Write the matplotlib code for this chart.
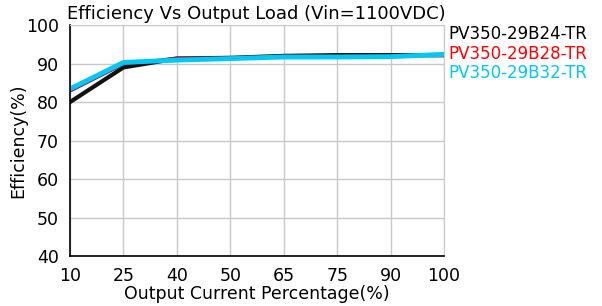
import matplotlib
matplotlib.use("Agg")
import matplotlib.pyplot as plt

x_labels = ["10", "25", "40", "50", "65", "75", "90", "100"]
eff_b24 = [80.0, 89.0, 91.3, 91.5, 92.0, 92.2, 92.2, 92.2]
eff_b28 = [82.8, 89.8, 91.5, 91.5, 92.0, 92.0, 92.0, 92.0]
eff_b32 = [83.4, 90.3, 90.9, 91.3, 91.7, 91.7, 91.8, 92.4]
names = ["PV350-29B24-TR", "PV350-29B28-TR", "PV350-29B32-TR"]
colors = ["#111111", "#8b1a4a", "#00c8f5"]
label_colors = ["#000000", "#ff0000", "#00c8f5"]

plt.rcParams['font.family'] = ['DejaVu Sans']
fig = plt.figure(figsize=(6.02, 3.06), dpi=100)
ax = fig.add_axes([0.1163, 0.1634, 0.6212, 0.7546])
xs = list(range(len(x_labels)))
for ys, c, lw in zip([eff_b24, eff_b28, eff_b32], colors, [3, 2, 3.5]):
    ax.plot(xs, ys, color=c, lw=lw, solid_capstyle='round')
ax.set_xlim(0, len(x_labels) - 1)
ax.set_ylim(40, 100)
ax.set_xticks(xs)
ax.set_xticklabels(x_labels)
ax.set_yticks(range(40, 101, 10))
ax.grid(True, color="#c8c8c8", lw=1)
for s in ["top", "right"]:
    ax.spines[s].set_color("#c8c8c8")
for s in ["left", "bottom"]:
    ax.spines[s].set_color("black")
    ax.spines[s].set_linewidth(1.2)
ax.tick_params(axis='both', labelsize=12.5, length=0, pad=8)
ax.set_xlabel("Output Current Percentage(%)", fontsize=12.5, labelpad=0)
ax.set_ylabel("Efficiency(%)", fontsize=12.5, labelpad=-1)
fig.text(0.112, 0.925, "Efficiency Vs Output Load (Vin=1100VDC)", fontsize=13, ha='left', va='bottom')
for i, (n, c) in enumerate(zip(names, label_colors)):
    fig.text(0.745, 0.888 - i * 0.063, n, color=c, fontsize=12, ha='left', va='center')
fig.savefig("out.png", dpi=100)
